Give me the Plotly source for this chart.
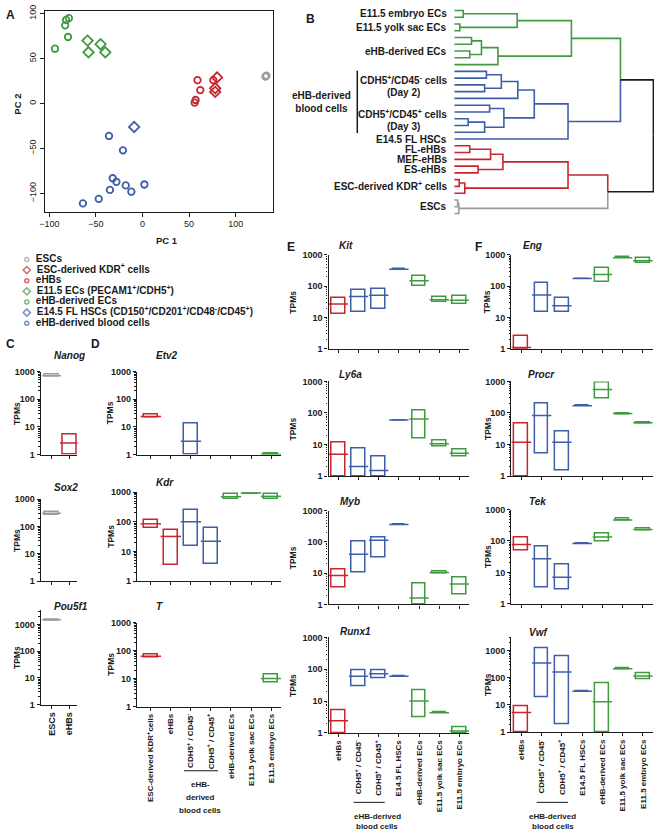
import plotly.graph_objects as go

W, H = 656, 838
FONT = "Liberation Sans, Arial, Helvetica, sans-serif"
INK = "#1a1a1a"
RED, BLUE, GREEN, GRAY = "#c9252f", "#3d5fab", "#3f9b3f", "#9b9b9b"

# ---------------- Panel A: PCA scores ----------------
legend_names = ["ESCs", "ESC-derived KDR<sup>+</sup> cells", "eHBs",
                "E11.5 ECs (PECAM1<sup>+</sup>/CDH5<sup>+</sup>)", "eHB-derived ECs",
                "E14.5 FL HSCs (CD150<sup>+</sup>/CD201<sup>+</sup>/CD48<sup>-</sup>/CD45<sup>+</sup>)",
                "eHB-derived blood cells"]
group_colors = [GRAY, RED, RED, GREEN, GREEN, BLUE, BLUE]
group_symbols = ["circle-open", "diamond-open", "circle-open", "diamond-open",
                 "circle-open", "diamond-open", "circle-open"]
pc1_escs = [132, 133]
pc2_escs = [30, 31]
pc1_kdr = [80, 78, 78]
pc2_kdr = [29, 17, 13]
pc1_ehbs = [59, 62, 57, 56, 76]
pc2_ehbs = [26, 15, 4, 1, 26]
pc1_e115ec = [-59, -58, -45, -40]
pc2_e115ec = [70, 57, 66, 57]
pc1_ehbec = [-94, -83, -82, -79, -80]
pc2_ehbec = [61, 87, 93, 95, 74]
pc1_flhsc = [-9]
pc2_flhsc = [-26]
pc1_ehbbc = [-36, -21, -32, -28, -18, 2, -12, -35, -47, -64]
pc2_ehbbc = [-36, -52, -83, -87, -91, -90, -98, -96, -106, -111]
pc1_all = [pc1_escs, pc1_kdr, pc1_ehbs, pc1_e115ec, pc1_ehbec, pc1_flhsc, pc1_ehbbc]
pc2_all = [pc2_escs, pc2_kdr, pc2_ehbs, pc2_e115ec, pc2_ehbec, pc2_flhsc, pc2_ehbbc]

# ---------------- Panel B: dendrogram ----------------
G, B_, R_, Y_, K = GREEN, BLUE, RED, GRAY, INK
leaf_colors = [G] * 9 + [B_] * 11 + [R_] * 8 + [Y_] * 3
green_tree = (((0, 1, 4.5, G), (2, 3, 2.8, G), 31.7, G),
              ((((4, 5, 8.7, G), (6, 7, 7.8, G), 13.7, G)), 8, 22.0, G), 59.0, G)
blue_tree = (((((9, 10, 16.2, B_), (11, 12, 15.3, B_), 23.7, B_), 13, 32.0, B_),
              ((14, 15, 17.8, B_), ((16, 17, 7.0, B_), 18, 15.3, B_), 25.0, B_), 40.3, B_),
             19, 57.3, B_)
red_tree = (((((20, 21, 7.8, R_), 22, 18.3, R_), (23, 24, 12.0, R_), 24.5, R_)),
            ((25, 26, 2.5, R_), 27, 5.3, R_), 57.3, R_)
gray_tree = ((28, 29, 1.7, Y_), 30, 2.3, Y_)
full_tree = ((green_tree, blue_tree, 83.7, K), (red_tree, gray_tree, 77.3, K), 100.3, K)
dendro_labels = [("E11.5 embryo ECs", 0, 1), ("E11.5 yolk sac ECs", 2, 3),
                 ("eHB-derived ECs", 4, 8),
                 ("E14.5 FL HSCs", 19, 19), ("FL-eHBs", 20, 21), ("MEF-eHBs", 22, 22),
                 ("ES-eHBs", 23, 24), ("ESC-derived KDR<sup>+</sup> cells", 25, 27),
                 ("ESCs", 28, 30)]
dendro_two_line = [("CDH5<sup>+</sup>/CD45<sup>-</sup> cells", "(Day 2)", 9, 13),
                   ("CDH5<sup>+</sup>/CD45<sup>+</sup> cells", "(Day 3)", 14, 18)]

# ---------------- Panels C-F: TPM ranges (min, median, max) ----------------
cats_C = ["ESCs", "eHBs"]
colors_C = [GRAY, RED]
nanog = [(650, 700, 760), (1.0, 2.6, 5.5)]
sox2 = [(260, 300, 340), None]
pou5f1 = [(1450, 1500, 1550), None]

cats_D = ["ESC-derived KDR<sup>+</sup>cells", "eHBs", "CDH5<sup>+</sup> / CD45<sup>-</sup>",
          "CDH5<sup>+</sup> / CD45<sup>+</sup>", "eHB-derived ECs", "E11.5 yolk sac ECs",
          "E11.5 embryo ECs"]
colors_D = [RED, RED, BLUE, BLUE, GREEN, GREEN, GREEN]
etv2 = [(22, 24, 28), None, (1.0, 3.0, 13), None, None, None, (1.0, 1.03, 1.08)]
kdr = [(62, 85, 110), (3.4, 32, 54), (15, 100, 250), (3.7, 22, 59),
       (560, 700, 850), (880, 940, 1000), (560, 720, 880)]
t_gene = [(55, 62, 70), None, None, None, None, None, (7, 10, 14)]

cats_EF = ["eHBs", "CDH5<sup>+</sup> / CD45<sup>-</sup>", "CDH5<sup>+</sup> / CD45<sup>+</sup>",
           "E14.5 FL HSCs", "eHB-derived ECs", "E11.5 yolk sac ECs", "E11.5 embryo ECs"]
colors_EF = [RED, BLUE, BLUE, BLUE, GREEN, GREEN, GREEN]
kit = [(13, 27, 41), (15, 47, 78), (19, 52, 83), (350, 350, 350), (105, 150, 215), (31, 37, 45), (27, 36, 50)]
ly6a = [(1, 4.9, 11.7), (1, 2.0, 7.6), (1, 1.5, 4.1), (60, 60, 60), (16, 64, 118), (8.4, 10.5, 13.5), (4.3, 5.3, 6.9)]
myb = [(3.5, 8.5, 12.7), (10.5, 40, 100), (31, 112, 134), (357, 357, 357), (1, 1.6, 4.8), (10, 10.5, 11), (2, 4.5, 7)]
runx1 = [(1, 2.4, 5), (30, 60, 90), (50, 72, 95), (60, 60, 60), (3, 10, 22), (4.3, 4.3, 4.3), (1, 1.15, 1.5)]
eng = [(1, 1.1, 2.5), (15, 53, 123), (15, 24, 42), (177, 177, 177), (140, 237, 395), (780, 815, 850), (565, 660, 790)]
procr = [(1, 11.7, 48), (5.2, 83, 204), (1.55, 11.7, 25.5), (170, 170, 170), (297, 560, 910), (92, 96, 100), (47, 49, 51)]
tek = [(49, 77, 125), (3.2, 27, 65), (2.8, 7, 18), (83, 83, 83), (94, 134, 170), (440, 470, 500), (220, 234, 250)]
vwf = [(1, 5.3, 8.8), (19, 345, 1230), (2, 162, 630), (32, 32, 32), (1, 13, 61), (200, 215, 230), (90, 115, 140)]
tpm_ticks = [1, 10, 100, 1000]

# ======================================================================
fig = go.Figure()
layout = {}
ann = []
shapes = []
count = [0]


def dx(x0, x1):
    return [x0 / W, x1 / W]


def dy(y0, y1):
    return [1 - y1 / H, 1 - y0 / H]


def fnt(size, bold=True, italic=False, color=INK):
    return dict(family=FONT, size=size, color=color,
                weight="bold" if bold else "normal",
                style="italic" if italic else "normal")


def new_axes(xkw, ykw):
    count[0] += 1
    n = count[0]
    s = "" if n == 1 else str(n)
    layout["xaxis" + s] = dict(anchor="y" + s, **xkw)
    layout["yaxis" + s] = dict(anchor="x" + s, **ykw)
    return "x" + s, "y" + s


def txt(x, y, s, size=10, xanchor="center", yanchor="middle", angle=0, bold=True,
        italic=False, xref="paper", yref="paper", color=INK):
    if xref == "paper":
        x = x / W
    if yref == "paper":
        y = 1 - y / H
    ann.append(dict(x=x, y=y, xref=xref, yref=yref, text=s, showarrow=False,
                    xanchor=xanchor, yanchor=yanchor, textangle=angle,
                    font=fnt(size, bold, italic, color), borderpad=0))


hidden = dict(visible=False, showgrid=False, zeroline=False)

# ---------------- Panel A ----------------
axA = dict(showline=True, mirror=True, linecolor=INK, linewidth=1.2, ticks="outside",
           ticklen=4, tickcolor=INK, showgrid=False, zeroline=False,
           tickfont=fnt(9, bold=False))
xa, ya = new_axes(dict(domain=dx(40, 270), range=[-105, 140],
                       tickvals=[-100, -50, 0, 50, 100], **axA),
                  dict(domain=dy(6, 209), range=[-120, 103],
                       tickvals=[-100, -50, 0, 50, 100], tickangle=-90, **axA))
for i in range(len(pc1_all)):
    fig.add_trace(go.Scatter(x=pc1_all[i], y=pc2_all[i], mode="markers", xaxis=xa, yaxis=ya,
                             marker=dict(symbol=group_symbols[i], size=8 if "diamond" in group_symbols[i] else 6.5,
                                         color=group_colors[i], line=dict(width=1.8, color=group_colors[i]))))
txt(163, 238, "PC 1", 9.5)
txt(13, 100, "PC 2", 9.5, angle=-90)
txt(6, 10, "A", 12)

# legend (custom rows)
xl, yl = new_axes(dict(domain=dx(15, 330), range=[0, 1], **hidden),
                  dict(domain=dy(250, 328), range=[len(legend_names) - 0.45, -0.7], **hidden))
fig.add_trace(go.Scatter(x=[0.022] * len(legend_names), y=list(range(len(legend_names))),
                         mode="markers+text", text=["  " + s for s in legend_names],
                         textposition="middle right",
                         textfont=fnt(10), xaxis=xl, yaxis=yl, cliponaxis=False,
                         marker=dict(symbol=group_symbols, size=[5.5 if "diamond" in s else 4 for s in group_symbols],
                                     color=group_colors, line=dict(width=1.5, color=group_colors))))

# ---------------- Panel B ----------------
segs = {}


def walk(node):
    if isinstance(node, int):
        return float(node), 0.0, leaf_colors[node]
    a, b, h, c = node
    ya_, ha, ca = walk(a)
    yb_, hb, cb = walk(b)
    ym = (ya_ + yb_) / 2
    segs.setdefault(ca, []).append([(ha, ya_), (h, ya_), (h, ym)])
    segs.setdefault(cb, []).append([(hb, yb_), (h, yb_), (h, ym)])
    return ym, h, c


walk(full_tree)
px0, pstep = 5.5, 6.85
y_lo = (0 - px0) / pstep
y_hi = (228 - px0) / pstep
xb, yb = new_axes(dict(domain=dx(452.7, 654), range=[0, 100.6], **hidden),
                  dict(domain=dy(0, 228), range=[y_hi, y_lo], **hidden))
for col, lst in segs.items():
    xs, ys = [], []
    for path in lst:
        for p in path:
            xs.append(p[0])
            ys.append(p[1])
        xs.append(None)
        ys.append(None)
    fig.add_trace(go.Scatter(x=xs, y=ys, mode="lines", line=dict(color=col, width=1.6),
                             xaxis=xb, yaxis=yb, cliponaxis=False))
for lab, i0, i1 in dendro_labels:
    ann.append(dict(x=446 / W, xref="paper", y=(i0 + i1) / 2, yref=yb, text=lab,
                    showarrow=False, xanchor="right", yanchor="middle", font=fnt(10), borderpad=0))
for lab1, lab2, i0, i1 in dendro_two_line:
    ann.append(dict(x=446 / W, xref="paper", y=(i0 + i1) / 2, yref=yb, yshift=5, text=lab1,
                    showarrow=False, xanchor="right", yanchor="middle", font=fnt(10), borderpad=0))
    ann.append(dict(x=402 / W, xref="paper", y=(i0 + i1) / 2, yref=yb, yshift=-8, text=lab2,
                    showarrow=False, xanchor="center", yanchor="middle", font=fnt(10), borderpad=0))
shapes.append(dict(type="line", xref="paper", yref=yb, x0=355 / W, x1=355 / W,
                   y0=9 - 0.1, y1=18 + 0.1, line=dict(color=INK, width=1.5)))
ann.append(dict(x=350 / W, xref="paper", y=13.5, yref=yb, text="eHB-derived<br>blood cells",
                showarrow=False, xanchor="right", yanchor="middle", align="center",
                font=fnt(10), borderpad=0))
txt(308, 14, "B", 12)


# ---------------- Panels C-F ----------------
def tpm_panel(vals, cats, colors, xpx, xrange, top_px, y1000_px, y1_px, title, title_xy,
              show_labels, label_size, bar_w, tpm_x):
    ppd = (y1_px - y1000_px) / 3.0
    ytop = 3 + (y1000_px - top_px) / ppd
    minor_vals = [m * 10 ** d for d in range(0, 4) for m in range(2, 10)]
    xa_, ya_ = new_axes(
        dict(domain=dx(*xpx), range=xrange, showline=True, linecolor=INK, linewidth=1.2,
             ticks="outside", ticklen=3, tickcolor=INK, showgrid=False, zeroline=False,
             tickvals=list(range(len(cats))), ticktext=cats, showticklabels=show_labels,
             tickangle=-90, tickfont=fnt(label_size)),
        dict(domain=dy(top_px, y1_px), type="log", range=[0, ytop], showline=True,
             linecolor=INK, linewidth=1.2, ticks="outside", ticklen=3, tickcolor=INK,
             showgrid=False, zeroline=False, tickvals=tpm_ticks,
             ticktext=[str(v) for v in tpm_ticks], tickfont=fnt(9),
             minor=dict(ticks="outside", ticklen=1.5, tickcolor=INK, tickmode="array",
                        tickvals=minor_vals, showgrid=False)))
    idx = [i for i, v in enumerate(vals) if v is not None]
    cols = [colors[i] for i in idx]
    fig.add_trace(go.Bar(x=idx, base=[vals[i][0] for i in idx],
                         y=[vals[i][2] - vals[i][0] for i in idx], width=bar_w,
                         marker=dict(color="rgba(0,0,0,0)", line=dict(color=cols, width=1.5)),
                         xaxis=xa_, yaxis=ya_))
    span = (xpx[1] - xpx[0]) / (xrange[1] - xrange[0])
    fig.add_trace(go.Scatter(x=idx, y=[vals[i][1] for i in idx], mode="markers",
                             marker=dict(symbol="line-ew", size=bar_w * span,
                                         line=dict(width=1.5, color=cols)),
                             xaxis=xa_, yaxis=ya_))
    txt(title_xy[0], title_xy[1], title, 10, xanchor="left", italic=True)
    txt(tpm_x, (top_px + y1_px) / 2, "TPMs", 8.5, angle=-90)
    return xa_


# C
cC = dict(cats=cats_C, colors=colors_C, xpx=(36, 73), xrange=[-0.61, 1.44],
          label_size=9, bar_w=0.75, tpm_x=12)
tpm_panel(nanog, top_px=371, y1000_px=371, y1_px=455, title="Nanog", title_xy=(48, 355),
          show_labels=False, **cC)
tpm_panel(sox2, top_px=500, y1000_px=500, y1_px=583, title="Sox2", title_xy=(48, 488),
          show_labels=False, **cC)
tpm_panel(pou5f1, top_px=612, y1000_px=627, y1_px=708, title="Pou5f1", title_xy=(48, 609),
          show_labels=True, **cC)
txt(6, 343, "C", 12)

# D
cD = dict(cats=cats_D, colors=colors_D, xpx=(133, 278), xrange=[-0.69, 6.49],
          label_size=8, bar_w=0.72, tpm_x=106)
tpm_panel(etv2, top_px=371, y1000_px=371, y1_px=455, title="Etv2", title_xy=(151, 355),
          show_labels=False, **cD)
tpm_panel(kdr, top_px=493, y1000_px=493, y1_px=583, title="Kdr", title_xy=(151, 483),
          show_labels=False, **cD)
xD = tpm_panel(t_gene, top_px=625, y1000_px=625, y1_px=710, title="T", title_xy=(151, 609),
               show_labels=True, **cD)
shapes.append(dict(type="line", xref=xD, yref="paper", x0=1.65, x1=3.35,
                   y0=1 - 775 / H, y1=1 - 775 / H, line=dict(color=INK, width=1)))
for s, yy in [("eHB-", 789), ("derived", 802), ("blood cells", 815)]:
    txt(197, yy, s, 8)
txt(91, 343, "D", 12)

# E
cE = dict(cats=cats_EF, colors=colors_EF, xpx=(326, 468), xrange=[-0.49, 6.5],
          label_size=8, bar_w=0.68, tpm_x=290)
tpm_panel(kit, top_px=253, y1000_px=253, y1_px=348, title="Kit", title_xy=(336, 243),
          show_labels=False, **cE)
tpm_panel(ly6a, top_px=381, y1000_px=381, y1_px=476.7, title="Ly6a", title_xy=(336, 374),
          show_labels=False, **cE)
tpm_panel(myb, top_px=511.7, y1000_px=511.7, y1_px=606.7, title="Myb", title_xy=(337, 503),
          show_labels=False, **cE)
xE = tpm_panel(runx1, top_px=640, y1000_px=640, y1_px=736.7, title="Runx1", title_xy=(337, 634),
               show_labels=True, **cE)
shapes.append(dict(type="line", xref=xE, yref="paper", x0=0.75, x1=2.3,
                   y0=1 - 807 / H, y1=1 - 807 / H, line=dict(color=INK, width=1)))
txt(375, 821, "eHB-derived", 8)
txt(375, 831, "blood cells", 8)
txt(288, 245, "E", 12)

# F
cF = dict(cats=cats_EF, colors=colors_EF, xpx=(510, 653), xrange=[-0.51, 6.5],
          label_size=8, bar_w=0.68, tpm_x=486)
tpm_panel(eng, top_px=253, y1000_px=253, y1_px=348, title="Eng", title_xy=(521, 243),
          show_labels=False, **cF)
tpm_panel(procr, top_px=381, y1000_px=381, y1_px=476.7, title="Procr", title_xy=(526, 374),
          show_labels=False, **cF)
tpm_panel(tek, top_px=510.7, y1000_px=510.7, y1_px=606, title="Tek", title_xy=(527, 503),
          show_labels=False, **cF)
xF = tpm_panel(vwf, top_px=640, y1000_px=653.3, y1_px=736, title="Vwf", title_xy=(527, 635),
               show_labels=True, **cF)
shapes.append(dict(type="line", xref=xF, yref="paper", x0=0.75, x1=2.3,
                   y0=1 - 807 / H, y1=1 - 807 / H, line=dict(color=INK, width=1)))
txt(552, 821, "eHB-derived", 8)
txt(552, 831, "blood cells", 8)
txt(477, 245, "F", 12)

fig.update_layout(width=W, height=H, autosize=False, margin=dict(l=0, r=0, t=0, b=0),
                  paper_bgcolor="white", plot_bgcolor="rgba(0,0,0,0)", showlegend=False,
                  font=dict(family=FONT, color=INK), annotations=ann, shapes=shapes,
                  bargap=0, **layout)
fig.write_html("out.html", config={"displayModeBar": False},
               post_script="document.body.style.margin='0';document.body.style.overflow='hidden';")
